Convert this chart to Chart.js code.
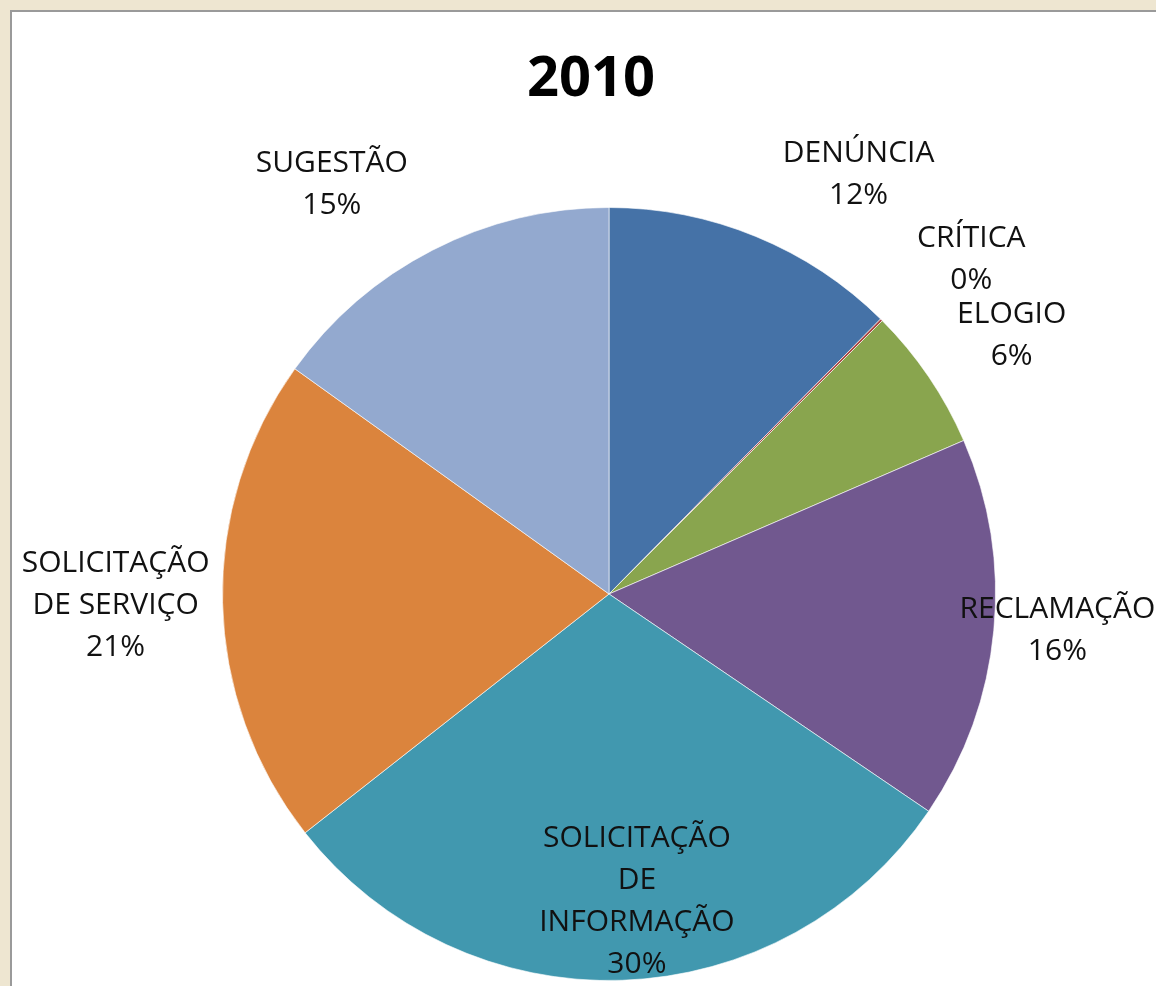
<!DOCTYPE html>
<html>
<head>
<meta charset="utf-8">
<script src="https://cdn.jsdelivr.net/npm/chart.js@4/dist/chart.umd.min.js"></script>
<style>
  html, body { margin: 0; padding: 0; }
  body { width: 1156px; height: 986px; background: #eee6d1; position: relative; overflow: hidden; }
  #panel { position: absolute; left: 10px; top: 10px; right: 0; bottom: 0; background: #fff;
           border-left: 2px solid #9a9a9a; border-top: 2px solid #9a9a9a; }
  #myChartPie { position: absolute; left: 0; top: 0; width: 1156px; height: 986px; }
</style>
</head>
<body>
<div id="panel"></div>
<canvas id="myChartPie" width="1156" height="986"></canvas>
<script>
const title = '2010';
// categories (one entry per line of the label)
const categories = [
  ['DENÚNCIA'],
  ['CRÍTICA'],
  ['ELOGIO'],
  ['RECLAMAÇÃO'],
  ['SOLICITAÇÃO', 'DE', 'INFORMAÇÃO'],
  ['SOLICITAÇÃO', 'DE SERVIÇO'],
  ['SUGESTÃO']
];
// share of each category, in percent
const values = [12.4, 0.1, 6.0, 16.0, 29.9, 20.5, 15.1];
const colors = ['#4572A7', '#AA4643', '#89A54E', '#71588F', '#4198AF', '#DB843D', '#93A9CF'];

// where each data label sits: distance (times radius) and turn from the slice middle (degrees)
const labelDist = [1.264, 1.275, 1.238, 1.164, 0.80, 1.277, 1.28];
const labelTurn = [8.4, 2.5, 1.5, -0.7, -3.2, -0.1, -6.9];

const labelFont = '500 30px "Open Sans", sans-serif';
const lineH = 42;

const pieLabels = {
  id: 'pieLabels',
  afterDatasetsDraw(chart) {
    const ctx = chart.ctx;
    const meta = chart.getDatasetMeta(0);
    ctx.save();
    // title
    ctx.font = 'bold 56px "Open Sans", sans-serif';
    ctx.fillStyle = '#000';
    ctx.textAlign = 'center';
    ctx.textBaseline = 'middle';
    ctx.fillText(title, 591, 80);

    ctx.font = labelFont;
    ctx.fillStyle = '#111';
    meta.data.forEach((arc, i) => {
      const mid = (arc.startAngle + arc.endAngle) / 2 + labelTurn[i] * Math.PI / 180;
      const r = arc.outerRadius * labelDist[i];
      const x = arc.x + r * Math.cos(mid);
      const y = arc.y + r * Math.sin(mid);
      const lines = categories[i].concat([Math.round(values[i]) + '%']);
      const top = y - (lines.length - 1) * lineH / 2;
      lines.forEach((t, j) => {
        ctx.fillText(t, x, top + j * lineH);
      });
    });
    ctx.restore();
  }
};

const ctx = document.getElementById('myChartPie').getContext('2d');
const chart = new Chart(ctx, {
  type: 'pie',
  data: {
    labels: categories,
    datasets: [{
      data: values,
      backgroundColor: colors,
      borderColor: 'rgba(255,255,255,0.6)',
      borderWidth: 1
    }]
  },
  options: {
    responsive: false,
    maintainAspectRatio: false,
    animation: false,
    layout: { padding: { left: 222, right: 160, top: 207, bottom: 5 } },
    plugins: {
      legend: { display: false },
      tooltip: { enabled: false },
      title: { display: false }
    }
  },
  plugins: [pieLabels]
});
</script>
</body>
</html>
